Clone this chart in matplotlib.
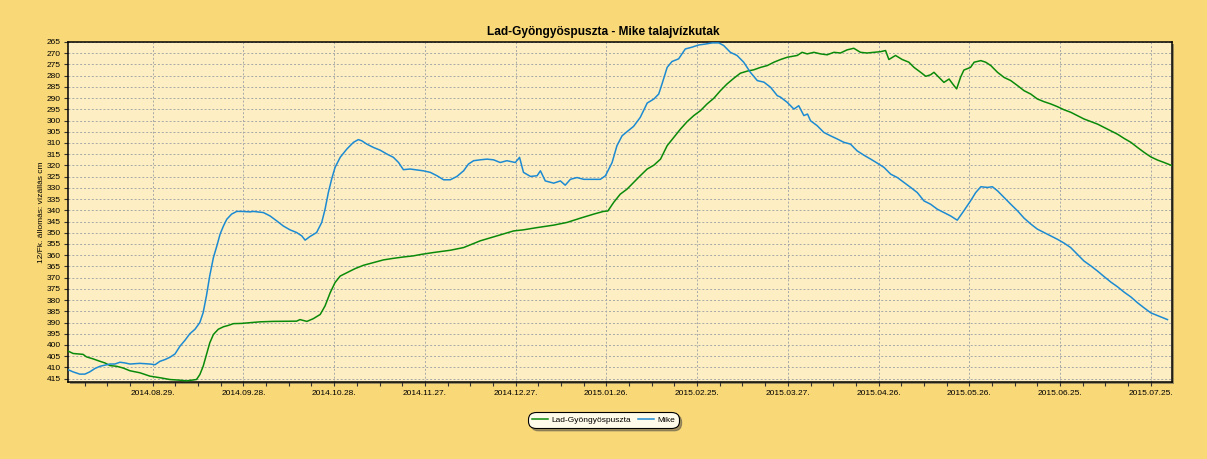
import matplotlib
matplotlib.use('Agg')
import matplotlib.pyplot as plt
import matplotlib.dates as mdates
from matplotlib.patches import Rectangle
from matplotlib.ticker import FixedLocator, MultipleLocator
import numpy as np
import pandas as pd

plt.rcParams['font.family'] = ['Liberation Sans', 'DejaVu Sans']

title = 'Lad-Gyöngyöspuszta - Mike talajvízkutak'
ylabel = '12/Fk. állomás: vízállás cm'
start = pd.Timestamp('2014-08-01')

# days after 2014-08-01, water level (cm)
lad_day = [0, 1.7, 5.0, 6.1, 8.3, 10.6, 12.2, 13.9, 16.1, 18.3, 20.5, 23.8, 27.1, 30.4,
           33.7, 37.0, 39.2, 42.5, 43.6, 44.7, 45.8, 46.9, 48.1, 49.7, 51.4, 53.0, 54.7,
           57.4, 63.5, 67.9, 75.6, 76.7, 79.0, 81.1, 83.4, 85.0, 86.7, 88.3, 90.0, 92.2,
           94.9, 97.7, 101.0, 104.3, 107.6, 110.9, 114.2, 117.0, 120.9, 126.4, 130.8,
           136.3, 141.8, 147.3, 150.6, 155.1, 160.6, 165.0, 169.4, 173.8, 177.0, 178.5,
           180.4, 182.6, 184.8, 187.0, 189.2, 191.5, 193.7, 195.9, 198.1, 200.3, 202.5,
           204.7, 206.9, 209.1, 211.3, 213.5, 215.7, 217.9, 220.1, 222.3, 224.5, 226.7,
           229.0, 231.2, 233.4, 235.6, 237.8, 241.1, 242.7, 244.4, 246.6, 248.8, 251.0,
           253.2, 255.4, 257.6, 259.8, 262.0, 264.2, 266.5, 268.7, 270.3, 271.4, 273.6,
           275.8, 278.0, 279.7, 281.9, 283.6, 285.2, 286.3, 288.0, 289.6, 291.3, 292.9,
           293.8, 295.1, 296.2, 298.4, 299.6, 301.8, 303.4, 305.1, 307.3, 309.5, 311.7,
           313.9, 316.1, 318.3, 320.5, 322.7, 324.9, 327.1, 329.3, 331.5, 333.7, 335.9,
           338.2, 340.4, 342.6, 344.8, 347.0, 349.2, 351.4, 353.6, 355.8, 358.0, 360.2,
           362.4, 365.2]
lad_cm = [402.7, 403.8, 404.2, 405.3, 406.2, 407.3, 408.0, 409.2, 409.5, 410.3, 411.5,
          412.4, 413.9, 414.6, 415.4, 415.7, 416.0, 415.4, 413.2, 409.5, 404.2, 399.0,
          395.3, 393.0, 391.9, 391.3, 390.5, 390.4, 389.7, 389.5, 389.4, 388.7, 389.5,
          388.3, 386.4, 382.6, 376.7, 372.2, 369.3, 367.8, 366.0, 364.5, 363.3, 362.1,
          361.4, 360.8, 360.3, 359.6, 358.8, 357.8, 356.6, 353.6, 351.4, 349.2, 348.7,
          347.7, 346.6, 345.4, 343.5, 341.7, 340.5, 340.3, 336.5, 332.8, 330.6, 327.6,
          324.6, 321.6, 319.9, 317.2, 311.2, 307.5, 303.8, 300.5, 297.8, 295.6, 292.6,
          290.1, 286.7, 283.7, 281.2, 278.9, 278.0, 277.4, 276.3, 275.5, 274.0, 272.8,
          271.8, 271.0, 269.6, 270.3, 269.6, 270.3, 270.7, 269.6, 269.9, 268.5, 267.8,
          269.6, 269.9, 269.6, 269.3, 268.8, 272.8, 271.0, 272.8, 274.0, 276.3, 278.5,
          280.3, 279.6, 278.5, 280.8, 283.0, 281.5, 284.4, 285.9, 280.7, 277.5, 276.3,
          274.0, 273.3, 274.0, 275.5, 278.5, 280.8, 282.2, 284.4, 286.7, 288.2, 290.4,
          291.6, 292.6, 293.8, 295.2, 296.3, 297.8, 299.3, 300.5, 301.6, 303.1, 304.6,
          306.1, 308.0, 309.7, 312.0, 314.2, 316.2, 317.6, 318.7, 320.2]

mike_day = [0, 1.7, 3.9, 5.6, 7.2, 8.9, 10.6, 12.2, 13.9, 15.5, 17.2, 18.8, 20.5, 23.8,
            27.1, 28.8, 30.4, 32.1, 33.7, 35.4, 37.0, 38.7, 40.3, 42.0, 43.6, 44.7, 45.8,
            46.9, 48.1, 49.2, 50.3, 51.4, 52.5, 54.1, 55.8, 57.4, 60.2, 61.3, 64.6, 66.8,
            69.0, 71.2, 73.4, 75.6, 77.3, 78.4, 80.0, 82.2, 83.9, 85.0, 86.1, 87.2, 88.3,
            90.0, 92.2, 94.4, 96.0, 97.1, 98.8, 101.0, 103.2, 105.4, 107.6, 109.3, 110.9,
            113.1, 115.3, 117.5, 119.8, 122.0, 124.2, 126.4, 128.6, 130.8, 132.4, 134.1,
            136.3, 138.5, 140.7, 142.9, 145.1, 147.9, 149.3, 150.6, 152.9, 155.1, 156.2,
            157.8, 160.6, 162.8, 164.4, 166.1, 168.3, 170.5, 172.7, 176.0, 177.7, 179.9,
            181.5, 183.2, 184.8, 187.0, 189.2, 191.5, 193.7, 195.3, 196.4, 198.1, 199.7,
            201.9, 204.1, 206.3, 208.6, 210.8, 213.0, 215.2, 216.8, 219.0, 221.2, 223.4,
            225.6, 227.9, 230.1, 232.3, 234.5, 235.6, 237.8, 240.0, 241.6, 243.3, 244.5,
            245.5, 247.7, 249.9, 252.1, 254.3, 256.5, 258.7, 260.9, 263.1, 265.4, 267.6,
            269.8, 272.0, 274.2, 276.4, 278.6, 280.8, 283.0, 285.2, 287.4, 289.6, 291.8,
            294.0, 296.2, 298.4, 300.1, 301.8, 304.0, 305.6, 307.3, 309.5, 311.7, 313.9,
            316.1, 318.3, 320.5, 322.7, 324.9, 327.1, 329.3, 331.5, 333.7, 335.9, 338.2,
            340.4, 342.6, 344.8, 347.0, 349.2, 351.4, 353.6, 355.8, 358.0, 360.2, 363.5]
mike_cm = [411.0, 412.0, 413.0, 413.0, 412.0, 410.5, 409.5, 409.0, 408.5, 408.5, 407.7,
           408.0, 408.5, 408.2, 408.5, 408.8, 407.3, 406.5, 405.5, 404.0, 400.6, 397.9,
           395.0, 393.0, 390.0, 385.6, 378.0, 369.0, 361.0, 356.0, 350.6, 347.0, 344.0,
           341.7, 340.5, 340.5, 340.7, 340.5, 341.0, 342.5, 344.7, 347.0, 348.7, 349.9,
           351.4, 353.3, 351.7, 349.9, 345.4, 339.5, 332.0, 326.0, 320.9, 316.4, 312.7,
           309.7, 308.5, 309.0, 310.5, 312.0, 313.2, 314.9, 316.4, 318.7, 321.9, 321.6,
           322.0, 322.4, 323.1, 324.6, 326.4, 326.4, 324.9, 322.4, 319.4, 317.9, 317.5,
           317.2, 317.5, 318.7, 317.9, 318.7, 316.4, 323.1, 324.9, 324.6, 322.4, 326.9,
           327.9, 326.9, 328.8, 326.2, 325.4, 326.2, 326.2, 326.2, 324.6, 318.7, 311.2,
           306.8, 305.0, 302.6, 298.6, 292.2, 290.4, 288.2, 283.7, 276.3, 273.7, 272.5,
           268.1, 267.3, 266.3, 265.9, 265.4, 265.4, 266.6, 269.6, 271.0, 274.0, 278.5,
           282.2, 282.9, 285.2, 288.9, 289.6, 291.9, 294.9, 293.4, 297.8, 297.1, 300.1,
           302.3, 305.3, 306.8, 308.2, 309.7, 310.5, 313.5, 315.4, 317.2, 319.0, 320.9,
           323.9, 325.4, 327.6, 329.8, 332.1, 335.8, 337.3, 339.5, 341.0, 342.5, 344.4,
           340.2, 335.8, 332.1, 329.5, 329.8, 329.5, 331.3, 334.3, 337.3, 340.2, 343.5,
           346.1, 348.4, 349.9, 351.4, 352.9, 354.6, 356.6, 359.6, 362.6, 364.8, 367.1,
           369.6, 372.0, 374.1, 376.5, 378.6, 381.2, 383.5, 385.7, 386.9, 388.7]

tick_dates = ['2014-08-29', '2014-09-28', '2014-10-28', '2014-11-27', '2014-12-27',
              '2015-01-26', '2015-02-25', '2015-03-27', '2015-04-26', '2015-05-26',
              '2015-06-25', '2015-07-25']

lad_x = start + pd.to_timedelta(lad_day, unit='D')
mike_x = start + pd.to_timedelta(mike_day, unit='D')

fig = plt.figure(figsize=(12.07, 4.59), dpi=100, facecolor='#F9D878')
pos = [0.0563, 0.1678, 0.9147, 0.7407]
ax = fig.add_axes(pos)
ax.set_facecolor('#FDEFC3')
ax.set_zorder(2)

# shadow behind plot area
fig.patches.append(Rectangle((pos[0] + 2 / 1207, pos[1] - 2 / 459), pos[2], pos[3],
                             transform=fig.transFigure, facecolor='#9a8a60',
                             edgecolor='none', zorder=1))

ax.plot(lad_x, lad_cm, color='#0A8A0A', lw=1.1, label='Lad-Gyöngyöspuszta', zorder=3)
ax.plot(mike_x, mike_cm, color='#1C8AD2', lw=1.1, label='Mike', zorder=3)

ax.set_ylim(416.5, 265)
ax.set_xlim(start, pd.Timestamp('2015-08-01'))

ax.yaxis.set_major_locator(MultipleLocator(5))
ticks = mdates.date2num(pd.to_datetime(tick_dates))
ax.xaxis.set_major_locator(FixedLocator(ticks))
minor = np.arange(ticks[0] - 30, ticks[-1] + 15, 7.5)
ax.xaxis.set_minor_locator(FixedLocator(minor))
ax.xaxis.set_major_formatter(mdates.DateFormatter('%Y.%m.%d.'))

ax.grid(True, which='major', color='#a8a8a8', ls=(0, (2, 2)), lw=0.7)
ax.tick_params(axis='both', which='both', labelsize=6, length=3, width=0.8,
               color='#333333', direction='out')
ax.tick_params(axis='x', which='major', pad=3)
ax.tick_params(axis='y', pad=2)
for s in ax.spines.values():
    s.set_color('black')
    s.set_linewidth(1.1)

ax.set_ylabel(ylabel, fontsize=6, labelpad=1)
fig.text(0.5, 0.931, title, ha='center', va='center', fontsize=8.6, fontweight='bold')

leg = fig.legend(loc='center', bbox_to_anchor=(0.5, 0.085), ncol=2, fontsize=6,
                 frameon=True, fancybox=True, shadow=True, handlelength=1.9,
                 handletextpad=0.4, columnspacing=0.8, borderpad=0.3)
leg.get_frame().set_edgecolor('black')
leg.get_frame().set_facecolor('#FFFBEA')
leg.get_frame().set_linewidth(0.8)
leg.get_frame().set_boxstyle('round,pad=0.2,rounding_size=0.9')

fig.savefig('out.png', dpi=100, facecolor=fig.get_facecolor())
